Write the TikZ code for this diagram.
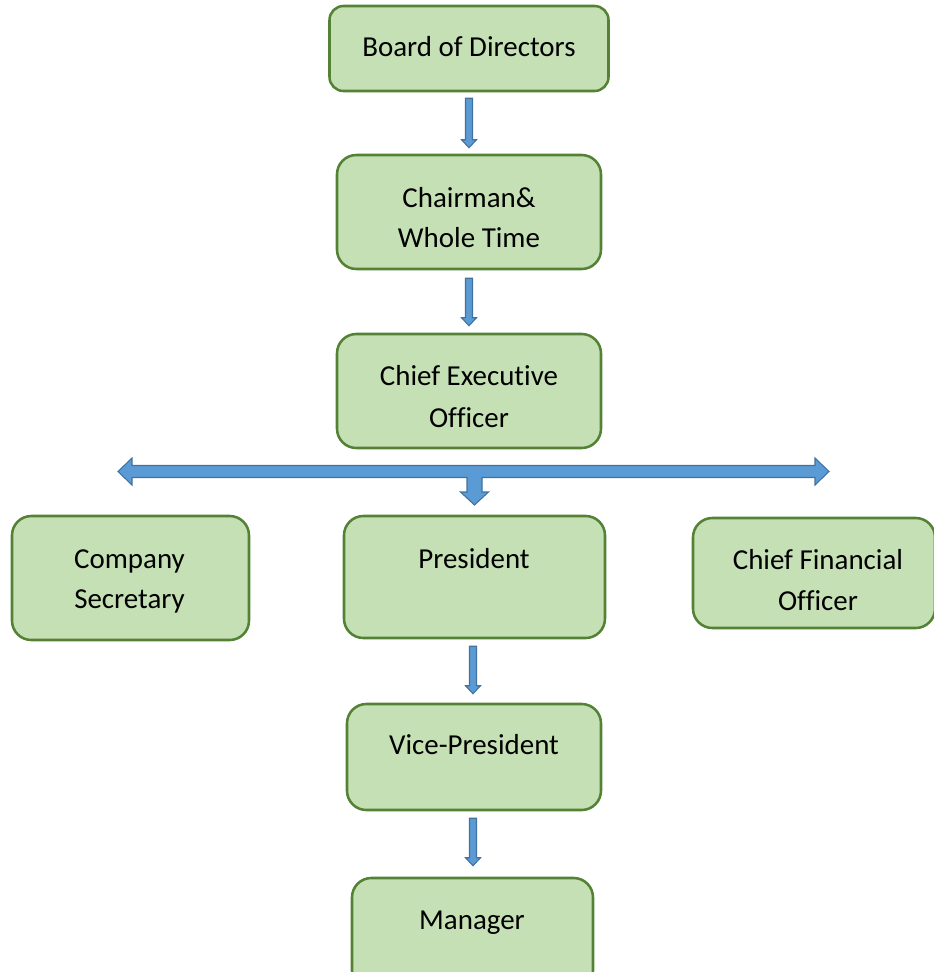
\documentclass[tikz,border=0pt]{standalone}
\usepackage{fontspec}
\setmainfont{Carlito}[Ligatures=NoCommon]
\usetikzlibrary{calc}
\definecolor{boxfill}{HTML}{C5E0B4}
\definecolor{boxline}{HTML}{548235}
\definecolor{arrfill}{HTML}{5B9BD5}
\definecolor{arrline}{HTML}{41719C}
\begin{document}
\begin{tikzpicture}[x=0.75pt,y=-0.75pt,
 box/.style={draw=boxline, fill=boxfill, line width=1.9pt, rounded corners=14.5pt, inner sep=0pt},
 txt/.style={anchor=base, inner sep=0pt, font=\fontsize{21.7pt}{30pt}\selectfont},
 barrow/.style={draw=arrline, fill=arrfill, line width=0.8pt, line join=miter},
 blockdown/.style={to path={let \p1=(\tikztostart), \p2=(\tikztotarget) in
   (\x1-2.625pt,\y1) -- (\x1+2.625pt,\y1) -- (\x1+2.625pt,\y2+6pt) -- (\x1+5.625pt,\y2+6pt)
   -- (\x1,\y2) -- (\x1-5.625pt,\y2+6pt) -- (\x1-2.625pt,\y2+6pt) -- cycle}}
]
\useasboundingbox (0,0) rectangle (934,972);

% boxes
\node[box, rounded corners=10.5pt, minimum width=209.25pt, minimum height=63.75pt] (board) at (469,48.5) {};
\node[box, minimum width=198pt, minimum height=85.5pt] (chair) at (469,212) {};
\node[box, minimum width=198pt, minimum height=85.5pt] (ceo) at (469,391) {};
\node[box, minimum width=177.75pt, minimum height=93pt] (sec) at (130.5,578) {};
\node[box, minimum width=195.75pt, minimum height=91.5pt] (pres) at (474.5,577) {};
\node[box, minimum width=181.5pt, minimum height=82.5pt] (cfo) at (814,573) {};
\node[box, minimum width=190.5pt, minimum height=79.5pt] (vp) at (474,757) {};
\node[box, minimum width=180.75pt, minimum height=84pt] (mgr) at (472.5,934) {};

% texts
\node[txt] (tboard) at (469,56) {Board of Directors};
\node[txt] (tchair1) at (469,207) {Chairman\&};
\node[txt] (tchair2) at (469,247) {Whole Time};
\node[txt] (tceo1) at (469,385) {Chief Executive};
\node[txt] (tceo2) at (469,427) {Officer};
\node[txt] (tsec1) at (129.5,568) {Company};
\node[txt] (tsec2) at (129.5,608) {Secretary};
\node[txt] (tpres) at (474,568) {President};
\node[txt] (tcfo1) at (818,569) {Chief Financial};
\node[txt] (tcfo2) at (818,610) {Officer};
\node[txt] (tvp) at (474,754) {Vice-President};
\node[txt] (tmgr) at (472,929) {Manager};

% small block arrows
\draw[barrow] ($(board.south)+(0,6)$) to[blockdown] ($(chair.north)+(0,-6)$);
\draw[barrow] ($(chair.south)+(0,8)$) to[blockdown] ($(ceo.north)+(0,-7)$);
\draw[barrow] ($(pres.south)+(-1.5,7)$) to[blockdown] ($(vp.north)+(-1.5,-9)$);
\draw[barrow] ($(vp.south)+(-1,7)$) to[blockdown] ($(mgr.north)+(0,-11)$);

% distribution arrow below the CEO
\coordinate (hl) at (118,471.5);
\coordinate (hr) at (829,471.5);
\coordinate (hd) at (474.5,505);
\draw[barrow] (hl) -- (132,458) -- (132,465.5) -- (815,465.5) -- (815,458) -- (hr)
  -- (815,485) -- (815,477.5) -- (482,477.5) -- (482,492) -- (488.5,492) -- (hd)
  -- (460.5,492) -- (467,492) -- (467,477.5) -- (132,477.5) -- (132,485) -- cycle;
\end{tikzpicture}
\end{document}
